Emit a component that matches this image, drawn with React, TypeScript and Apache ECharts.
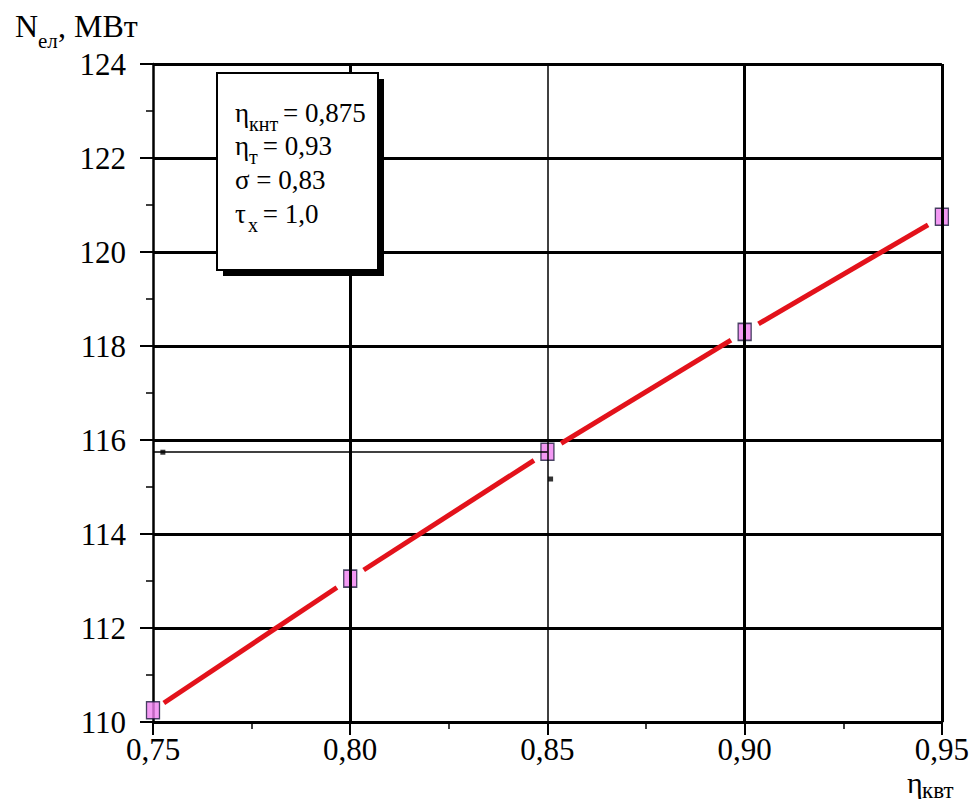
import React, { useEffect, useRef } from "react";
import * as echarts from "echarts";

// ---- data ----
const xValues = [0.75, 0.8, 0.85, 0.9, 0.95];
const yValues = [110.25, 113.05, 115.75, 118.3, 120.75];
const xMin = 0.75;
const xMax = 0.95;
const xStep = 0.05;
const yMin = 110;
const yMax = 124;
const yStep = 2;
const xGridValues = [0.8, 0.85, 0.9, 0.95];
const leaderX = [0.75, 0.85];
const leaderY = 115.75;
const strayMarks = [
  [0.7525, 115.74],
  [0.8508, 115.17],
];
const yTitleMain = "N";
const yTitleSub = "ел";
const yTitleTail = ", МВт";
const xTitleMain = "η";
const xTitleSub = "квт";
const legendLines = [
  { main: "η", sub: "кнт", tail: "= 0,875" },
  { main: "η", sub: "т", tail: " = 0,93" },
  { main: "σ = 0,83", sub: "", tail: "" },
  { main: "τ", sub: "х", tail: " = 1,0" },
];

const FONT = "Liberation Serif";
const INK = "#000";

export default function App() {
  const ref = useRef<HTMLDivElement>(null);

  useEffect(() => {
    document.body.style.margin = "0";
    if (!ref.current) return;
    const chart = echarts.init(ref.current, undefined, { renderer: "svg" });

    const pts = xValues.map((x, i) => [x, yValues[i]]);

    const txt = (text: string, x: number, baseline: number, size: number, z = 100) => ({
      type: "text",
      x,
      y: Math.round(baseline - size * 0.34),
      z,
      style: {
        text,
        fontFamily: FONT,
        fontSize: size,
        fill: INK,
        verticalAlign: "middle",
        align: "left",
      },
    });

    const legendBaselines = [122, 155, 189, 223];
    const legendSubDx = [14, 14, 0, 13];
    const legendTailDx = [48, 21, 0, 21];
    const legendEls: any[] = [];
    legendLines.forEach((ln, i) => {
      const b = legendBaselines[i];
      legendEls.push(txt(ln.main, 235, b, 27, 103));
      if (ln.sub) legendEls.push(txt(ln.sub, 235 + legendSubDx[i], b + 9, 20, 103));
      if (ln.tail) legendEls.push(txt(ln.tail, 235 + legendTailDx[i], b, 27, 103));
    });

    const axisCommon = {
      type: "value",
      axisLine: { show: true, onZero: false, lineStyle: { color: "#000", width: 2.5 } },
      axisTick: { show: true, length: 13, lineStyle: { color: "#000", width: 2 } },
      minorTick: { show: true, splitNumber: 2, length: 7, lineStyle: { color: "#000", width: 1.5 } },
    };

    chart.setOption({
      animation: false,
      backgroundColor: "#fff",
      grid: { left: 153, right: 28, top: 64, bottom: 88 },
      xAxis: {
        ...axisCommon,
        min: xMin,
        max: xMax,
        interval: xStep,
        splitLine: { show: false },
        axisLabel: {
          fontFamily: FONT,
          fontSize: 31,
          color: INK,
          margin: 12,
          formatter: (v: number) => v.toFixed(2).replace(".", ","),
        },
      },
      yAxis: {
        ...axisCommon,
        min: yMin,
        max: yMax,
        interval: yStep,
        splitLine: { show: true, lineStyle: { color: "#000", width: 3 } },
        axisLabel: {
          fontFamily: FONT,
          fontSize: 31,
          color: INK,
          margin: 27,
        },
      },
      series: [
        {
          type: "scatter",
          name: "marks",
          data: strayMarks,
          symbol: "rect",
          symbolSize: 5,
          itemStyle: { color: "#000" },
          z: 1,
          silent: true,
          markLine: {
            silent: true,
            symbol: "none",
            label: { show: false },
            animation: false,
            data: [
              ...xGridValues.map((v) => ({
                xAxis: v,
                lineStyle: { color: "#000", width: Math.abs(v - 0.85) < 1e-9 ? 1.5 : 3, type: "solid" },
              })),
              [
                { coord: [leaderX[0], leaderY], lineStyle: { color: "#000", width: 1.5, type: "solid" } },
                { coord: [leaderX[1], leaderY] },
              ],
            ],
          },
        },
        {
          type: "custom",
          name: "curve",
          data: pts,
          z: 2,
          silent: true,
          renderItem: (params: any, api: any) => {
            const i = params.dataIndex;
            if (i >= pts.length - 1) return null;
            const a = api.coord(pts[i]);
            const b = api.coord(pts[i + 1]);
            const dx = b[0] - a[0];
            const dy = b[1] - a[1];
            const L = Math.hypot(dx, dy);
            const ux = dx / L;
            const uy = dy / L;
            const g0 = i === 0 ? 13 : 16;
            const g1 = 16;
            return {
              type: "line",
              shape: {
                x1: a[0] + ux * g0,
                y1: a[1] + uy * g0,
                x2: b[0] - ux * g1,
                y2: b[1] - uy * g1,
              },
              style: { stroke: "#e3121b", lineWidth: 5, lineCap: "butt" },
            };
          },
        },
        {
          type: "scatter",
          name: "points",
          data: pts,
          symbol: "rect",
          symbolSize: [13, 17],
          itemStyle: { color: "#f07ff0", borderColor: "#1c1c3c", borderWidth: 1.5 },
          z: 3,
          silent: true,
        },
      ],
      graphic: [
        txt(yTitleMain, 15, 37, 32),
        txt(yTitleSub, 38, 48, 21),
        txt(yTitleTail, 58, 37, 32),
        txt(xTitleMain, 907, 792, 30),
        txt(xTitleSub, 922, 798, 23),
        {
          type: "rect",
          z: 101,
          silent: true,
          shape: { x: 223, y: 79, width: 161, height: 197 },
          style: { fill: "#000" },
        },
        {
          type: "rect",
          z: 102,
          silent: true,
          shape: { x: 217, y: 73, width: 161, height: 197 },
          style: { fill: "#fff", stroke: "#000", lineWidth: 2 },
        },
        ...legendEls,
      ],
    });

    return () => chart.dispose();
  }, []);

  return <div ref={ref} style={{ width: 972, height: 810 }} />;
}
